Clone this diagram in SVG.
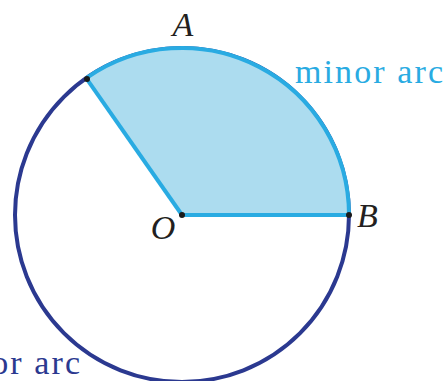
<svg xmlns="http://www.w3.org/2000/svg" width="445" height="381" viewBox="0 0 445 381">
<defs>
<circle id="dot" r="3" fill="#1a1a1a"/>
</defs>
<rect width="445" height="381" fill="#ffffff"/>
<g id="circle">
<circle cx="182" cy="215" r="167" fill="none" stroke="#2b3990" stroke-width="4"/>
</g>
<g id="sector">
<path d="M182 215 L86.2 78.2 A167 167 0 0 1 349 215 Z" fill="#acdcef" stroke="none"/>
</g>
<g id="connectors" fill="none" stroke="#29abe2" stroke-width="4">
<path d="M86.2 78.2 A167 167 0 0 1 349 215"/>
<path d="M182 215 L86.2 78.2"/>
<path d="M182 215 L349 215"/>
</g>
<g id="O"><use href="#dot" x="182" y="215"/><text x="163" y="239" text-anchor="middle" font-family="'Liberation Serif', 'DejaVu Serif', 'Times New Roman', serif" font-style="italic" font-size="34" fill="#231f20">O</text></g>
<g id="A"><use href="#dot" x="87" y="79"/><text x="183" y="36" text-anchor="middle" font-family="'Liberation Serif', 'DejaVu Serif', 'Times New Roman', serif" font-style="italic" font-size="34" fill="#231f20">A</text></g>
<g id="B"><use href="#dot" x="349" y="215"/><text x="357" y="227" font-family="'Liberation Serif', 'DejaVu Serif', 'Times New Roman', serif" font-style="italic" font-size="34" fill="#231f20">B</text></g>
<g id="minor-arc"><text x="295" y="83" fill="#29abe2" font-family="'Liberation Serif', 'DejaVu Serif', 'Times New Roman', serif" font-size="34" textLength="148" lengthAdjust="spacing">minor arc</text></g>
<g id="major-arc"><text x="80" y="374" fill="#2b3990" font-family="'Liberation Serif', 'DejaVu Serif', 'Times New Roman', serif" font-size="34" text-anchor="end" textLength="146" lengthAdjust="spacing">major arc</text></g>
</svg>
